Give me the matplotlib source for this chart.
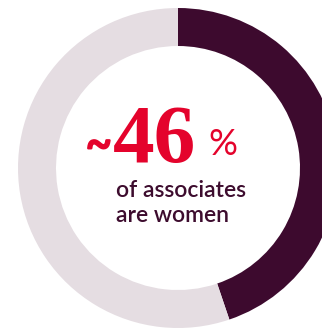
import matplotlib
matplotlib.use('Agg')
import matplotlib.pyplot as plt
import matplotlib.patheffects as pe

# share of associates who are women (arc as drawn) and rest
shares = [44.8, 55.2]
ring_colors = ['#3d0a2e', '#e5dde2']
big_number = '46'
caption = ['of associates', 'are women']

W, H = 322, 329
fig = plt.figure(figsize=(W / 100, H / 100), dpi=100)
ax = fig.add_axes([0, 0, 1, 1])

ax.pie(shares, colors=ring_colors, startangle=90, counterclock=False,
       radius=160, center=(178, H - 168),
       wedgeprops=dict(width=38, edgecolor='none', linewidth=0))

ax.set_xlim(0, W)
ax.set_ylim(0, H)
ax.set_aspect('equal')
ax.axis('off')

red = '#e4032c'
ax.text(88, H - 158, '~', color=red, fontsize=30, fontweight='bold',
        family='Liberation Serif', ha='left', va='baseline',
        path_effects=[pe.withStroke(linewidth=1.8, foreground=red)])
ax.text(113, H - 162, big_number, color=red, fontsize=60, fontweight='bold',
        family='Liberation Serif', ha='left', va='baseline')
ax.text(208, H - 155, '%', color=red, fontsize=26,
        family='Lato', ha='left', va='baseline')

ax.text(116, H - 197, caption[0], color='#3d0c2e', fontsize=16.5,
        family='Lato', fontweight='semibold', ha='left', va='baseline')
ax.text(116, H - 222, caption[1], color='#3d0c2e', fontsize=16.5,
        family='Lato', fontweight='semibold', ha='left', va='baseline')

fig.savefig('out.png', dpi=100)
